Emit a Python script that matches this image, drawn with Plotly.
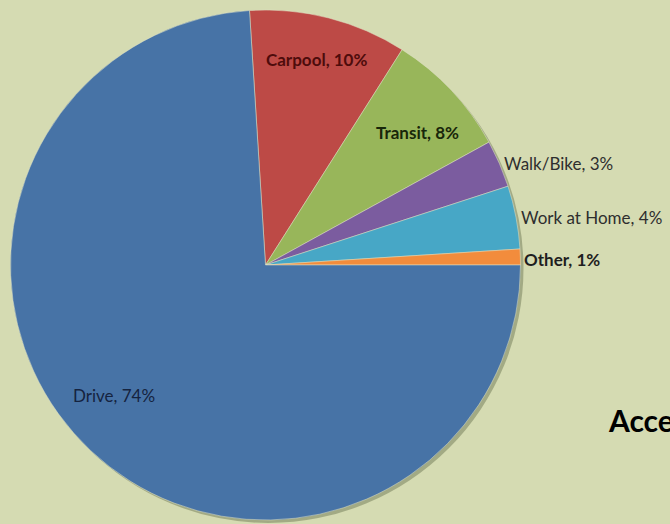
import plotly.graph_objects as go

# ---- data ----
labels = ["Carpool", "Transit", "Walk/Bike", "Work at Home", "Other", "Drive"]
values = [10, 8, 3, 4, 1, 74]
colors = ["#bd4a46", "#98b65a", "#7b5c9f", "#47a7c6", "#f28c3c", "#4773a6"]
title_text = "Acce"

# ---- label styling / placement (pixels in 670x524 page) ----
W, H = 670, 524
label_pos = {
    "Carpool": (316, 59, "center"),
    "Transit": (417, 132, "center"),
    "Walk/Bike": (502, 164, "left"),
    "Work at Home": (519, 218, "left"),
    "Other": (522, 259, "left"),
    "Drive": (114, 395, "center"),
}
label_color = {
    "Carpool": "#4e0c0c",
    "Transit": "#18260a",
    "Walk/Bike": "#2e2e2e",
    "Work at Home": "#2e2e2e",
    "Other": "#1e1e1e",
    "Drive": "#15233f",
}
label_bold = {"Carpool": True, "Transit": True, "Other": True}

cx, cy, r = 265.5, 265, 255
shadow_dx, shadow_dy = 3, 3

fig = go.Figure()
# soft drop shadow behind the pie
fig.add_trace(go.Pie(
    values=[1], labels=[""], sort=False, textinfo="none", hoverinfo="skip",
    marker=dict(colors=["rgba(70,80,45,0.35)"], line=dict(width=0)),
    showlegend=False,
    domain=dict(x=[(cx - r + shadow_dx) / W, (cx + r + shadow_dx) / W],
                y=[(H - cy - r - shadow_dy) / H, (H - cy + r - shadow_dy) / H]),
))
fig.add_trace(go.Pie(
    labels=labels,
    values=values,
    sort=False,
    direction="clockwise",
    rotation=-3.6,
    marker=dict(colors=colors, line=dict(color="rgba(225,228,200,0.5)", width=1)),
    textinfo="none",
    hoverinfo="label+percent",
    showlegend=False,
    domain=dict(x=[(cx - r) / W, (cx + r) / W], y=[(H - cy - r) / H, (H - cy + r) / H]),
))

annotations = []
for lab, val in zip(labels, values):
    x, y, anchor = label_pos[lab]
    txt = f"{lab}, {val}%"
    if label_bold.get(lab):
        txt = f"<b>{txt}</b>"
    annotations.append(dict(
        x=x / W, y=1 - y / H, xref="paper", yref="paper",
        text=txt, showarrow=False, xanchor=anchor, yanchor="middle",
        font=dict(family="Lato, Open Sans, sans-serif", size=17, color=label_color[lab]),
    ))

annotations.append(dict(
    x=606 / W, y=1 - 420 / H, xref="paper", yref="paper",
    text=f"<b>{title_text}</b>", showarrow=False, xanchor="left", yanchor="middle",
    font=dict(family="Lato, Open Sans, sans-serif", size=30, color="#000000"),
))

fig.update_layout(
    width=W, height=H,
    margin=dict(l=0, r=0, t=0, b=0),
    paper_bgcolor="#d5dbb2",
    plot_bgcolor="#d5dbb2",
    annotations=annotations,
)

fig.write_html("out.html", config={"displayModeBar": False})
